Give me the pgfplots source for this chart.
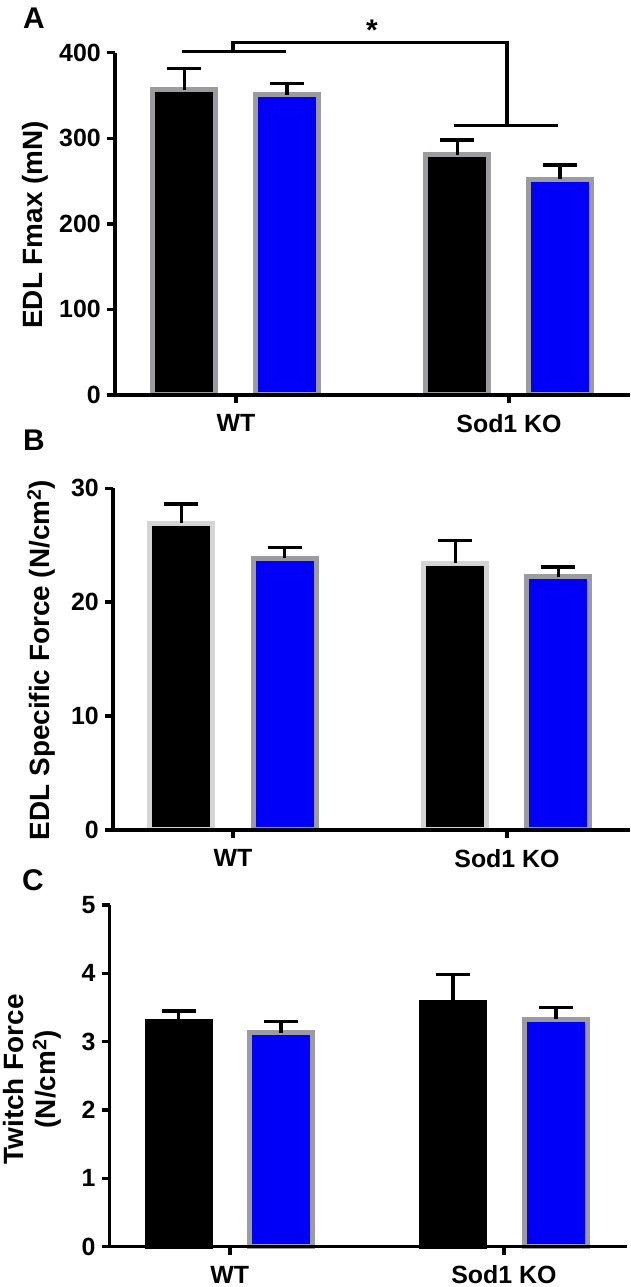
\documentclass[border=0pt]{standalone}
\usepackage{fontspec}
\setmainfont{Liberation Sans}
\usepackage{pgfplots}
\pgfplotsset{compat=1.18}
\definecolor{grayA}{RGB}{155,155,160}
\definecolor{grayL}{RGB}{212,212,212}
\definecolor{myblue}{RGB}{0,0,250}
\newcommand{\tfont}{\fontsize{25}{30}\selectfont\bfseries}
\newcommand{\lfont}{\fontsize{28}{32}\selectfont\bfseries}
\pgfplotsset{
  panel/.style={scale only axis, axis on top, clip=false,
    axis x line*=bottom, axis y line*=left,
    axis line style={line width=3.5bp,-},
    every tick/.style={line width=3.5bp, black},
    major tick length=8bp, tick align=outside,
    xtick={0,1}, xticklabels={WT,Sod1 KO}, ymin=0,
    tick label style={font=\tfont},
    /pgf/number format/assume math mode=true,
    yticklabel style={inner sep=0pt, xshift=-6bp},
    xticklabel style={inner sep=0pt, yshift=-11bp},
    ylabel style={font=\lfont}},
  mybar/.style={ybar, bar width=63bp, bar shift=0pt, line width=5bp,
    /pgfplots/error bars/y dir=plus, /pgfplots/error bars/y explicit,
    /pgfplots/error bars/error bar style={line width=3.3bp, black},
    /pgfplots/error bars/error mark options={rotate=90, mark size=17bp, line width=3.3bp, black}}
}
\begin{document}
\begin{tikzpicture}
\path[use as bounding box] (0bp,0bp) rectangle (631bp,1287bp);
% Panel A
\begin{axis}[panel, at={(115bp,892bp)}, anchor=south west,
  width=515bp, height=342.3bp, xmin=-0.443, xmax=1.443,
  ymax=400, ytick={0,100,200,300,400},
  ylabel={EDL Fmax (mN)},
  ylabel style={at={(axis description cs:-0.1417,0.497)}, anchor=base}]
\addplot[mybar, fill=black, draw=grayA] coordinates {(-0.189,356.6) +- (0,25.2) (0.81,280.7) +- (0,17.3)};
\addplot[mybar, fill=myblue, draw=grayA] coordinates {(0.187,350.8) +- (0,13.4) (1.187,252) +- (0,16.7)};
\draw[line width=3.3bp] (axis cs:-0.197,401.2) -- (axis cs:0.183,401.2);
\draw[line width=3.3bp] (axis cs:-0.011,401.2) -- (axis cs:-0.011,412.2) -- (axis cs:0.993,412.2) -- (axis cs:0.993,314.7);
\draw[line width=3.3bp] (axis cs:0.797,314.7) -- (axis cs:1.178,314.7);
\node[font=\fontsize{30}{34}\selectfont\bfseries, anchor=base, inner sep=0pt] at (axis cs:0.498,414) {*};
\end{axis}
% Panel B
\begin{axis}[panel, at={(113bp,457bp)}, anchor=south west,
  width=517bp, height=341.7bp, xmin=-0.438, xmax=1.449,
  ymax=30, ytick={0,10,20,30},
  ylabel={EDL Specific Force (N/cm\textsuperscript{2})},
  ylabel style={at={(axis description cs:-0.122,0.4975)}, anchor=base}]
\addplot[mybar, fill=black, draw=grayL] coordinates {(-0.188,26.95) +- (0,1.67) (0.812,23.43) +- (0,1.97)};
\addplot[mybar, fill=myblue, draw=grayA] coordinates {(0.188,23.84) +- (0,0.95) (1.188,22.23) +- (0,0.87)};
\end{axis}
% Panel C
\begin{axis}[panel, at={(109.7bp,40.3bp)}, anchor=south west,
  width=517.3bp, height=341.7bp, xmin=-0.438, xmax=1.449,
  ymax=5, ytick={0,1,2,3,4,5},
  ylabel={Twitch Force\\(N/cm\textsuperscript{2})},
  ylabel style={at={(axis description cs:-0.150,0.49)}, anchor=center, align=center}]
\addplot[mybar, fill=black, draw=black] coordinates {(-0.187,3.30) +- (0,0.15) (0.814,3.58) +- (0,0.40)};
\addplot[mybar, fill=myblue, draw=grayA] coordinates {(0.187,3.13) +- (0,0.17) (1.19,3.33) +- (0,0.17)};
\end{axis}
\node[font=\fontsize{30}{34}\selectfont\bfseries] at (34bp,1269bp) {A};
\node[font=\fontsize{30}{34}\selectfont\bfseries] at (34bp,847bp) {B};
\node[font=\fontsize{30}{34}\selectfont\bfseries] at (33bp,407bp) {C};
\end{tikzpicture}
\end{document}
